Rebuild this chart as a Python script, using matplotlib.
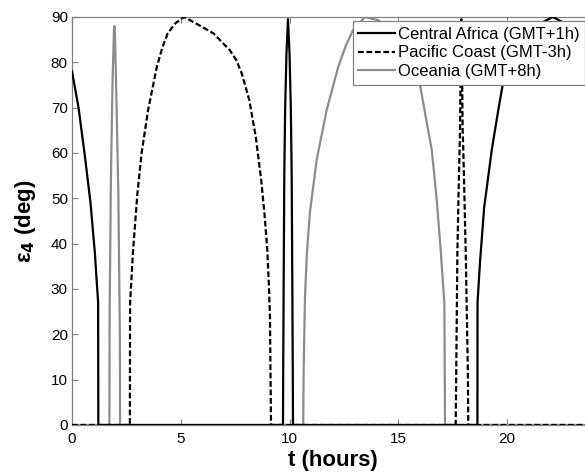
"""Elevacao epsilon_4 ao longo do dia para tres regioes (figura estilo MATLAB)."""

import matplotlib

matplotlib.use("Agg")
import matplotlib.pyplot as plt

plt.rcParams["font.family"] = ["Liberation Sans", "DejaVu Sans"]

# Central Africa (GMT+1h)
ca_t = [0, 0.3, 0.6, 0.85, 1.05, 1.2, 1.21, 9.70, 9.71, 9.73, 9.76, 9.80, 9.86,
        9.93, 10.00, 10.06, 10.10, 10.13, 10.15, 10.16, 18.64, 18.645, 18.76,
        18.95, 19.3, 19.6, 19.8, 20.3, 20.9, 21.5, 22.1, 22.7, 23.3, 24.0]
ca_e = [78, 70, 59, 49, 38, 27, 0, 0, 12, 30, 55, 70, 82,
        89.5, 82, 70, 55, 30, 12, 0, 0, 27, 36,
        48, 60.7, 69.5, 75, 81, 86, 88.5, 90, 88.5, 85, 80]

# Pacific Coast (GMT-3h)
pc_t = [0, 2.66, 2.67, 2.8, 3.0, 3.2, 3.5, 3.9, 4.15, 4.4, 4.75, 5.15, 5.8, 6.5,
        7.25, 7.55, 7.8, 8.15, 8.45, 8.7, 8.85, 8.98, 9.05, 9.10, 9.15, 17.64,
        17.66, 17.72, 17.79, 17.84, 17.87, 17.9, 17.93, 17.96, 17.99, 18.10,
        18.2, 18.22, 24]
pc_e = [0, 0, 27, 38, 50.7, 60, 69.5, 79, 83.2, 86.4, 88.6, 90, 88.3, 86.4,
        82.7, 80.5, 77.6, 71.7, 63.5, 54, 46.5, 38.6, 31, 24, 0, 0,
        9, 38.6, 55, 65, 80, 89.5, 80, 65, 60.7, 38.6,
        12, 0, 0]

# Oceania (GMT+8h)
oc_t = [0, 1.72, 1.73, 1.79, 1.86, 1.93, 1.95, 1.97, 2.05, 2.13, 2.20, 2.21,
        10.63, 10.65, 10.71, 10.8, 10.94, 11.25, 11.71, 12.24, 12.6, 12.92,
        13.47, 14.07, 14.7, 15.4, 16.0, 16.3, 16.54, 16.77, 16.95, 17.12, 17.15,
        24]
oc_e = [0, 0, 25, 55, 75, 87.5, 88, 87.5, 70, 51, 20, 0,
        0, 12, 28, 38, 47, 58.5, 69.5, 79, 83.8, 87.1,
        90, 89.3, 87, 82, 75, 67, 60.7, 49.6, 38.6, 26.9, 0,
        0]

labels = ["Central Africa (GMT+1h)", "Pacific Coast (GMT-3h)", "Oceania (GMT+8h)"]
x_ticks = [0, 5, 10, 15, 20]
y_ticks = [0, 10, 20, 30, 40, 50, 60, 70, 80, 90]

GRAY = "#808080"


def main() -> None:
    fig = plt.figure(figsize=(5.85, 4.74), dpi=100)
    # eixo passa um pouco da borda direita, como no recorte original
    ax = fig.add_axes([0.1231, 0.1034, 0.8923, 0.8608])

    ax.plot(ca_t, ca_e, color="black", lw=1.6, label=labels[0], zorder=4)
    ax.plot(pc_t, pc_e, color="black", lw=1.6, dashes=(2.6, 1.2),
            label=labels[1], zorder=3)
    ax.plot(oc_t, oc_e, color="#8c8c8c", lw=1.6, label=labels[2], zorder=2)

    ax.set_xlim(0, 24)
    ax.set_ylim(0, 90)
    ax.set_xticks(x_ticks)
    ax.set_yticks(y_ticks)
    ax.tick_params(direction="in", length=4, width=0.8, color=GRAY,
                   labelsize=11, pad=3, top=True, right=True)
    ax.tick_params(axis="x", pad=5)
    for sp in ax.spines.values():
        sp.set_color(GRAY)
        sp.set_linewidth(0.9)

    ax.set_xlabel("t (hours)", fontsize=16, fontweight="bold", labelpad=3)
    ax.set_ylabel(r"ε$_\mathbf{4}$ (deg)", fontsize=16, fontweight="bold",
                  labelpad=9)

    leg = ax.legend(loc="upper right", bbox_to_anchor=(1.0, 0.9557),
                    bbox_transform=fig.transFigure, borderaxespad=0,
                    fontsize=12, frameon=True, fancybox=False, framealpha=1,
                    handlelength=2.2, handletextpad=0.15, labelspacing=0.22,
                    borderpad=0.35)
    leg.get_frame().set_edgecolor(GRAY)
    leg.get_frame().set_linewidth(0.9)

    fig.savefig("out.png", dpi=100)
    plt.close(fig)


if __name__ == "__main__":
    main()
